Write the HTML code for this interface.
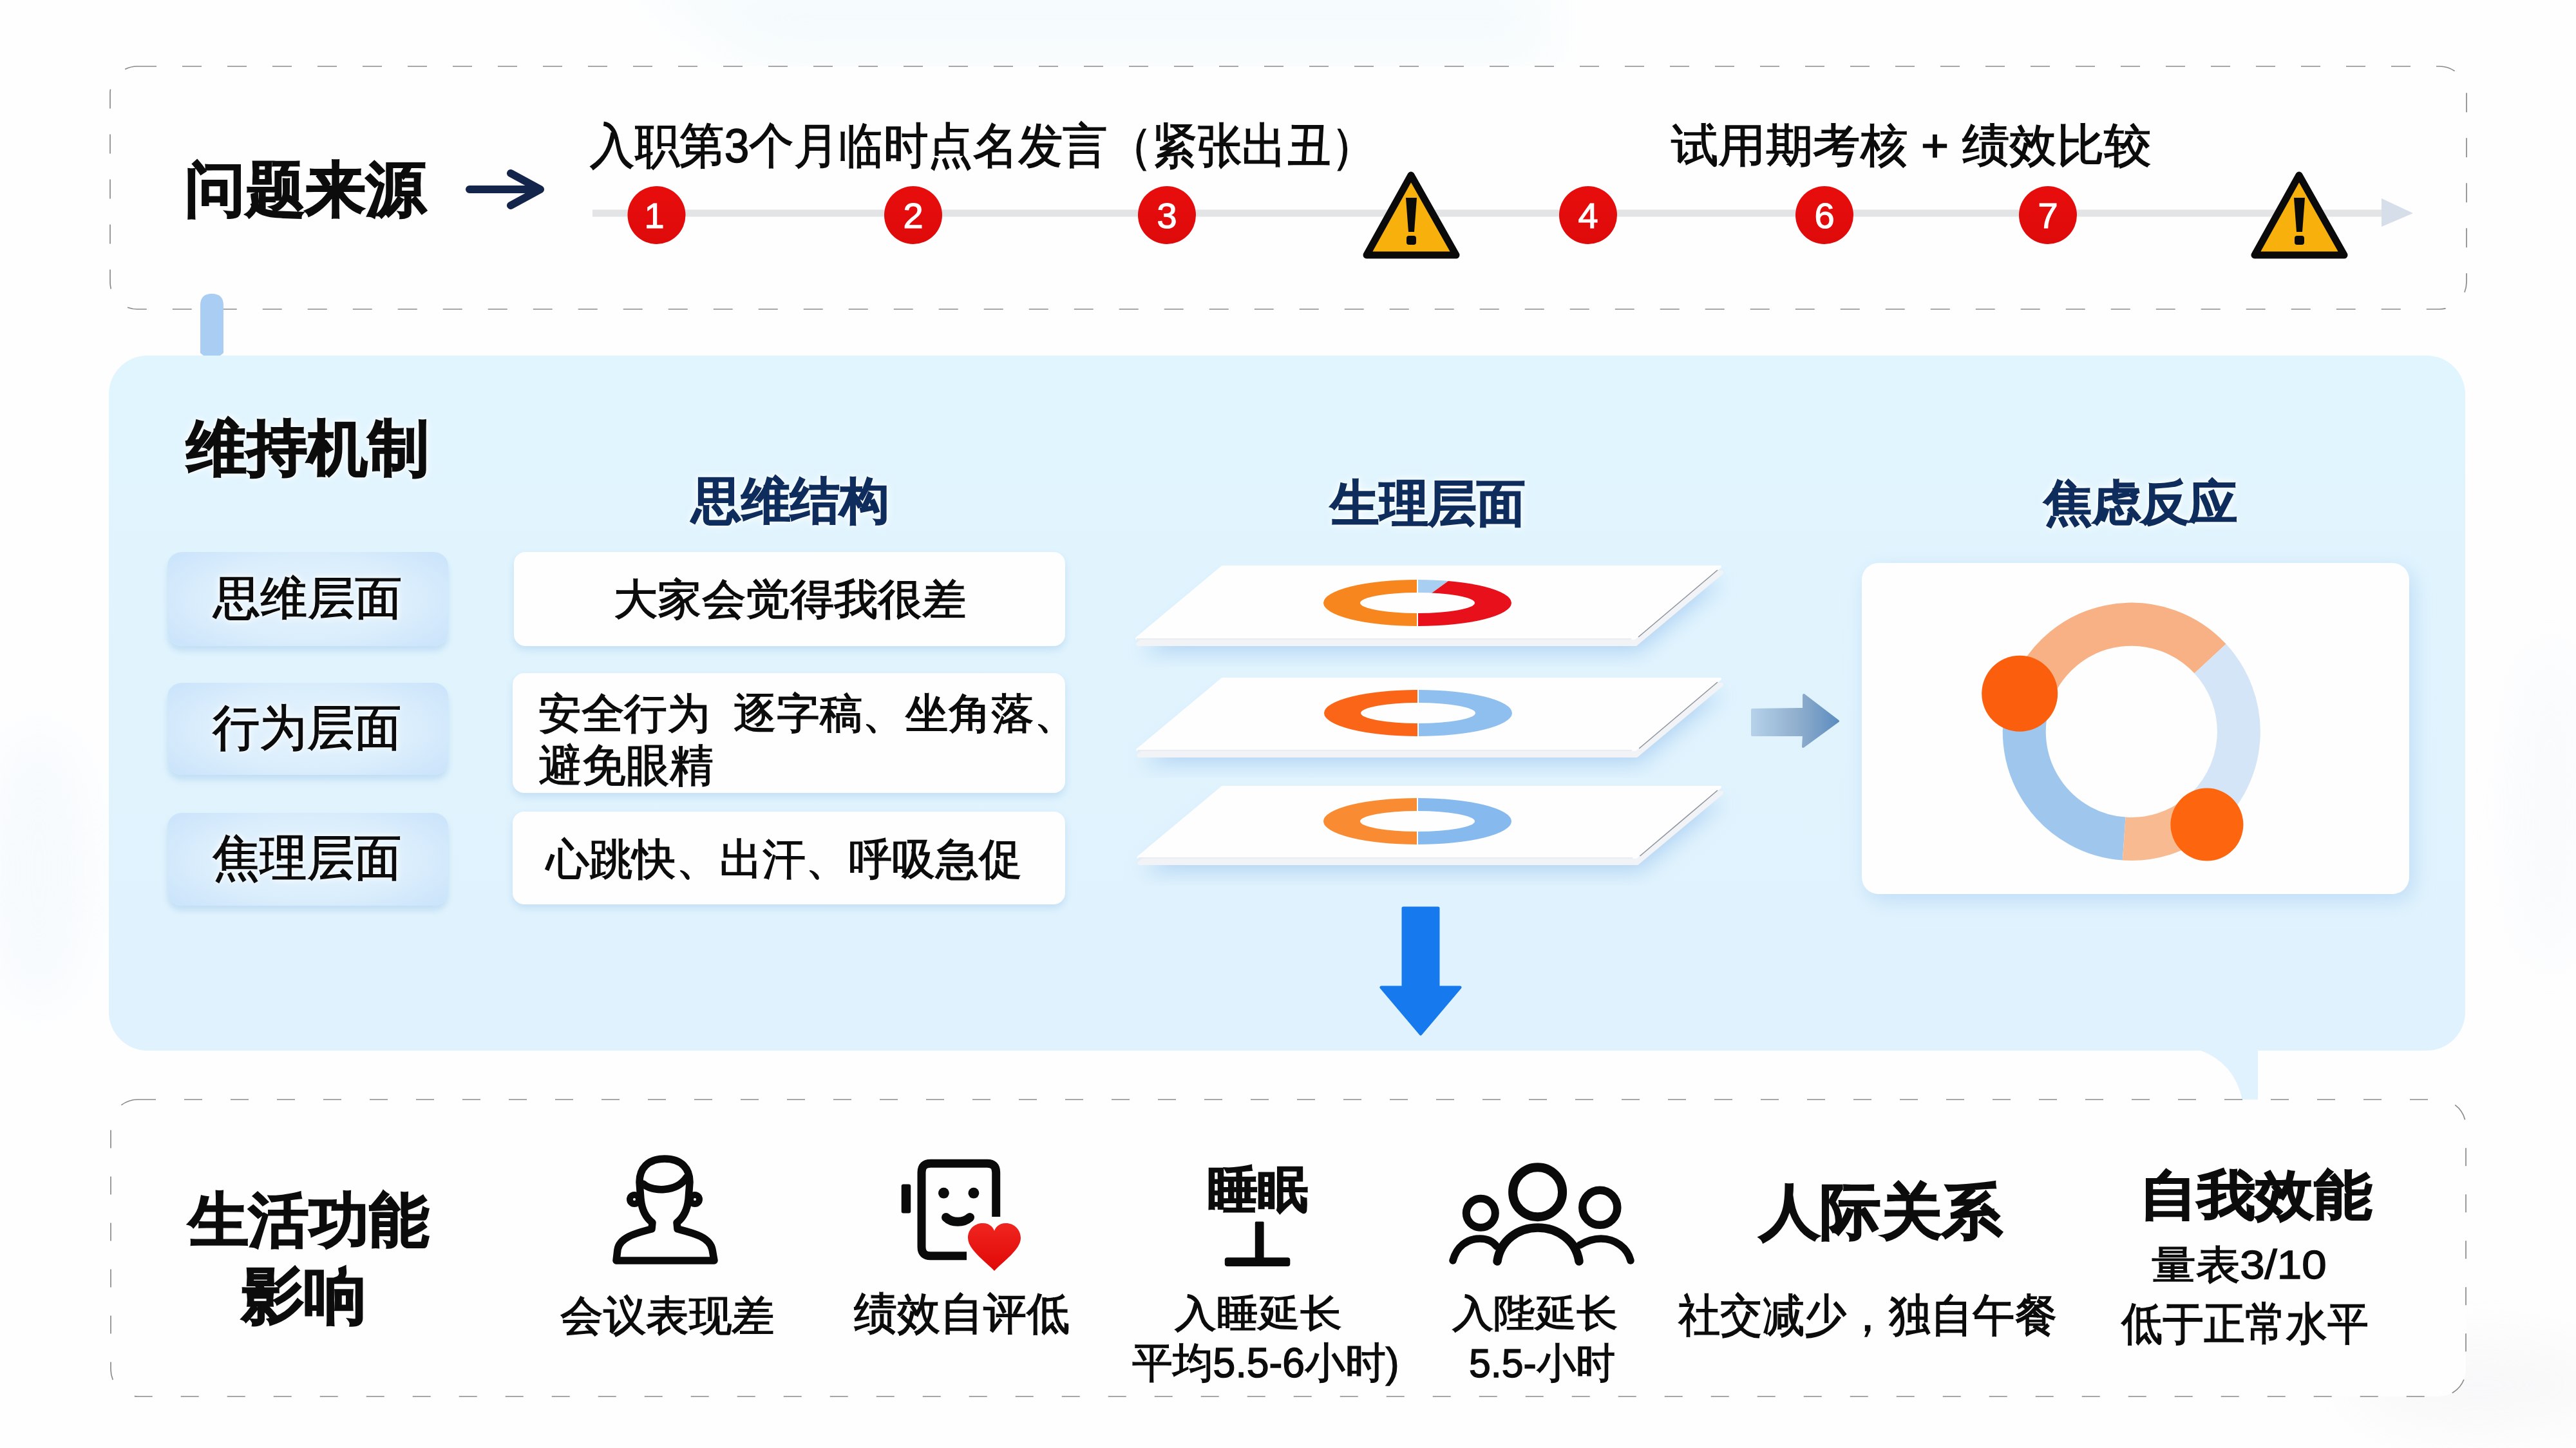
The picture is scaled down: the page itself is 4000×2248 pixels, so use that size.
<!DOCTYPE html>
<html><head><meta charset="utf-8">
<style>
html,body{margin:0;padding:0;}
body{width:4000px;height:2248px;position:relative;overflow:hidden;background:#fefefe;font-family:"Liberation Sans",sans-serif;color:#0c0c0c;}
.t{position:absolute;white-space:pre;line-height:1;transform-origin:0 0;z-index:5;font-weight:400;-webkit-text-stroke:1.5px currentColor;}
.b{font-weight:700;-webkit-text-stroke:2px currentColor;}
.b.navy{-webkit-text-stroke:1.5px currentColor;}
.glow{text-shadow:0 0 4px #fff,0 0 9px #fff,0 0 16px rgba(255,255,255,.9);}
.navy{color:#0f2d5c;}
svg.l{position:absolute;left:0;top:0;}
.pill{position:absolute;border-radius:22px;background:radial-gradient(ellipse 60% 70% at 50% 50%,#e4f3fd 0%,#dbeefc 60%,#cde5fb 100%);box-shadow:0 8px 10px rgba(160,200,235,0.45);z-index:2;}
.card{position:absolute;border-radius:18px;background:#fefefe;box-shadow:0 6px 12px rgba(160,200,235,0.45);z-index:2;}
</style></head><body>
<svg class="l" width="4000" height="2248" viewBox="0 0 4000 2248" style="z-index:1">
<defs>
  <filter id="blur10" x="-20%" y="-50%" width="140%" height="200%"><feGaussianBlur stdDeviation="10"/></filter>
  <filter id="blur16" x="-20%" y="-20%" width="140%" height="140%"><feGaussianBlur stdDeviation="16"/></filter>
  <filter id="blur40" x="-100%" y="-100%" width="300%" height="300%"><feGaussianBlur stdDeviation="40"/></filter>
  <linearGradient id="ag" x1="0" y1="0" x2="1" y2="0"><stop offset="0" stop-color="#b5d1ea"/><stop offset="0.55" stop-color="#8eadcc"/><stop offset="1" stop-color="#5d8dc0"/></linearGradient>
  <linearGradient id="midg" x1="0" y1="0" x2="0" y2="1"><stop offset="0" stop-color="#e1f5fe"/><stop offset="1" stop-color="#e0f2fd"/></linearGradient>
  <linearGradient id="redg" x1="0" y1="0" x2="0" y2="1"><stop offset="0" stop-color="#e80d0d"/><stop offset="1" stop-color="#de0a0a"/></linearGradient>
  <linearGradient id="hg" x1="0" y1="0" x2="0" y2="1"><stop offset="0" stop-color="#f0251f"/><stop offset="1" stop-color="#e00808"/></linearGradient>
</defs>
<!-- faint background blobs -->
<polygon points="980,-40 2400,-40 2400,100 1180,100" fill="#f5fbfd" filter="url(#blur40)"/>
<ellipse cx="60" cy="1350" rx="80" ry="220" fill="#eaf4fc" filter="url(#blur40)" opacity="0.4"/>
<ellipse cx="3960" cy="1250" rx="60" ry="260" fill="#eef4fa" filter="url(#blur40)" opacity="0.35"/>
<ellipse cx="3850" cy="2150" rx="200" ry="70" fill="#f0f1f3" filter="url(#blur40)" opacity="0.45"/>
<!-- top dashed box -->
<rect x="171" y="103" width="3659" height="377" rx="42" fill="#fefefe" stroke="#8a8a8a" stroke-width="1.7" stroke-dasharray="30 40"/>
<!-- connector -->
<path d="M311 474 Q311 456 329 456 Q347 456 347 474 L347 548 Q338 556 329 558 Q320 556 311 548 Z" fill="#a9cdf3"/>

<!-- middle box -->
<rect x="169" y="552" width="3659" height="1079" rx="60" fill="url(#midg)"/>
<!-- tail -->
<path d="M3400 1620 L3506 1620 L3506 1708 L3482 1708 Q3470 1650 3415 1630 Z" fill="#e0f2fd"/>

<!-- bottom dashed box -->
<rect x="172" y="1707" width="3657" height="461" rx="42" fill="#fefefe" stroke="#8a8a8a" stroke-width="1.7" stroke-dasharray="28 44"/>

<!-- timeline -->
<line x1="920" y1="331" x2="3705" y2="331" stroke="#e2e4e6" stroke-width="11"/>
<polygon points="3698,308 3747,331 3698,352" fill="#d6dee9"/>
<!-- red numbered circles -->
<g fill="url(#redg)">
<circle cx="1019.5" cy="334" r="45"/>
<circle cx="1418" cy="334" r="45"/>
<circle cx="1812" cy="334" r="45"/>
<circle cx="2466" cy="334" r="45"/>
<circle cx="2833" cy="334" r="45"/>
<circle cx="3180" cy="334" r="45"/>
</g>
<g fill="#fff" stroke="#fff" stroke-width="1.2" font-family="Liberation Sans, sans-serif" font-weight="400" font-size="56" text-anchor="middle">
<text x="1016" y="354">1</text>
<text x="1418" y="354">2</text>
<text x="1812" y="354">3</text>
<text x="2466" y="354">4</text>
<text x="2833" y="354">6</text>
<text x="3180" y="354">7</text>
</g>
<!-- warning triangles -->
<g stroke="#0a0a0a" stroke-width="11" stroke-linejoin="round" fill="#f8b10c">
<polygon points="2191,272 2122,396 2261,396"/>
<polygon points="3570,272 3501,396 3640,396"/>
</g>
<g fill="#0a0a0a">
<path d="M2183 307 L2200 307 L2196 360 L2187 360 Z"/>
<rect x="2184" y="366" width="15" height="14" rx="4"/>
<path d="M3562 307 L3579 307 L3575 360 L3566 360 Z"/>
<rect x="3563" y="366" width="15" height="14" rx="4"/>
</g>
<!-- arrow after title -->
<path d="M729 294 L836 294 M793 269 L839 294 L793 319" fill="none" stroke="#13254a" stroke-width="12" stroke-linecap="round" stroke-linejoin="round"/>

<!-- ===== middle: plates ===== -->
<g id="plates">
  <polygon points="1904.0,902.0 2677.0,902.0 2544.0,1013.0 1771.0,1013.0" fill="#a3c9f0" filter="url(#blur16)" opacity="0.75"/>
  <polygon points="1900.0,889.0 2673.0,889.0 2540.0,1000.0 1767.0,1000.0" fill="#f1f3f6" stroke="#f1f3f6" stroke-width="6" stroke-linejoin="round"/>
  <polygon points="1898.0,880.0 2671.0,880.0 2538.0,991.0 1765.0,991.0" fill="#fefefe" stroke="#fefefe" stroke-width="4" stroke-linejoin="round"/>
  <line x1="2667.0" y1="885.0" x2="2544.0" y2="989.0" stroke="#8d949c" stroke-width="1.6"/>
  <line x1="1765.0" y1="992.0" x2="2533.0" y2="992.0" stroke="#e3e6ea" stroke-width="1.5"/>
  <polygon points="1904.0,1076.0 2677.0,1076.0 2545.2,1186.0 1772.2,1186.0" fill="#a3c9f0" filter="url(#blur16)" opacity="0.75"/>
  <polygon points="1900.0,1063.0 2673.0,1063.0 2541.2,1173.0 1768.2,1173.0" fill="#f1f3f6" stroke="#f1f3f6" stroke-width="6" stroke-linejoin="round"/>
  <polygon points="1898.0,1054.0 2671.0,1054.0 2539.2,1164.0 1766.2,1164.0" fill="#fefefe" stroke="#fefefe" stroke-width="4" stroke-linejoin="round"/>
  <line x1="2667.0" y1="1059.0" x2="2545.2" y2="1162.0" stroke="#8d949c" stroke-width="1.6"/>
  <line x1="1766.2" y1="1165.0" x2="2534.2" y2="1165.0" stroke="#e3e6ea" stroke-width="1.5"/>
  <polygon points="1904.0,1244.0 2677.0,1244.0 2546.4,1353.0 1773.4,1353.0" fill="#a3c9f0" filter="url(#blur16)" opacity="0.75"/>
  <polygon points="1900.0,1231.0 2673.0,1231.0 2542.4,1340.0 1769.4,1340.0" fill="#f1f3f6" stroke="#f1f3f6" stroke-width="6" stroke-linejoin="round"/>
  <polygon points="1898.0,1222.0 2671.0,1222.0 2540.4,1331.0 1767.4,1331.0" fill="#fefefe" stroke="#fefefe" stroke-width="4" stroke-linejoin="round"/>
  <line x1="2667.0" y1="1227.0" x2="2546.4" y2="1329.0" stroke="#8d949c" stroke-width="1.6"/>
  <line x1="1767.4" y1="1332.0" x2="2535.4" y2="1332.0" stroke="#e3e6ea" stroke-width="1.5"/>
</g>
<!-- donuts -->
<defs>
  
  <clipPath id="cl"><rect x="-160" y="-50" width="159" height="100"/></clipPath>
  <clipPath id="cr"><rect x="1" y="-50" width="159" height="100"/></clipPath>
  <clipPath id="ctr"><polygon points="1,-50 70,-50 1,0"/></clipPath>
  <clipPath id="crr"><polygon points="70,-50 160,-50 160,50 1,50 1,0"/></clipPath>
</defs>
<g transform="translate(2201,936)">
  <path d="M-146 0 A146 36 0 1 0 146 0 A146 36 0 1 0 -146 0 Z M-89 0 A89 16 0 1 1 89 0 A89 16 0 1 1 -89 0 Z" fill-rule="evenodd" fill="#f7861f" clip-path="url(#cl)"/>
  <path d="M-146 0 A146 36 0 1 0 146 0 A146 36 0 1 0 -146 0 Z M-89 0 A89 16 0 1 1 89 0 A89 16 0 1 1 -89 0 Z" fill-rule="evenodd" fill="#a8cff2" clip-path="url(#ctr)"/>
  <path d="M-146 0 A146 36 0 1 0 146 0 A146 36 0 1 0 -146 0 Z M-89 0 A89 16 0 1 1 89 0 A89 16 0 1 1 -89 0 Z" fill-rule="evenodd" fill="#e8101a" clip-path="url(#crr)"/>
</g>
<g transform="translate(2202,1107)">
  <path d="M-146 0 A146 36 0 1 0 146 0 A146 36 0 1 0 -146 0 Z M-89 0 A89 16 0 1 1 89 0 A89 16 0 1 1 -89 0 Z" fill-rule="evenodd" fill="#fa6517" clip-path="url(#cl)"/>
  <path d="M-146 0 A146 36 0 1 0 146 0 A146 36 0 1 0 -146 0 Z M-89 0 A89 16 0 1 1 89 0 A89 16 0 1 1 -89 0 Z" fill-rule="evenodd" fill="#8fbfee" clip-path="url(#cr)"/>
</g>
<g transform="translate(2201,1275)">
  <path d="M-146 0 A146 36 0 1 0 146 0 A146 36 0 1 0 -146 0 Z M-89 0 A89 16 0 1 1 89 0 A89 16 0 1 1 -89 0 Z" fill-rule="evenodd" fill="#f98c33" clip-path="url(#cl)"/>
  <path d="M-146 0 A146 36 0 1 0 146 0 A146 36 0 1 0 -146 0 Z M-89 0 A89 16 0 1 1 89 0 A89 16 0 1 1 -89 0 Z" fill-rule="evenodd" fill="#86baef" clip-path="url(#cr)"/>
</g>

<!-- right arrow -->
<path d="M2721 1102 L2801 1101 L2801 1079 L2854 1119.5 L2800 1159 L2801 1141 L2721 1141 Z" fill="url(#ag)" stroke="url(#ag)" stroke-width="4" stroke-linejoin="round"/>

<!-- anxiety card -->
<rect x="2898" y="884" width="850" height="514" rx="26" fill="#a9cdf2" filter="url(#blur16)" opacity="0.6"/>
<rect x="2891" y="874" width="850" height="514" rx="26" fill="#fefefe"/>
<g fill="none" stroke-width="67">
<path d="M3298.2 1302.0 A166.6 166.6 0 0 1 3152.3 1081.6" stroke="#9fc7ee"/>
<path d="M3152.3 1081.6 A166.6 166.6 0 0 1 3432.0 1022.6" stroke="#f8b185"/>
<path d="M3432.0 1022.6 A166.6 166.6 0 0 1 3414.6 1265.3" stroke="#d4e5f7"/>
<path d="M3414.6 1265.3 A166.6 166.6 0 0 1 3298.2 1302.0" stroke="#f8bb91"/>
</g>
<circle cx="3136.2" cy="1076.8" r="59" fill="#fb5e0d"/>
<circle cx="3426.9" cy="1280.1" r="56.5" fill="#fd650f"/>

<!-- down arrow -->
<path d="M2179 1410 L2233 1410 L2233 1533 L2267 1533 L2206 1605 L2145 1533 L2179 1533 Z" fill="#167aee" stroke="#167aee" stroke-width="5" stroke-linejoin="round"/>

<!-- ===== bottom icons ===== -->
<g fill="none" stroke="#0a0a0a" stroke-linecap="round" stroke-linejoin="round">
  <!-- person -->
  <path stroke-width="11.5" d="M1032 1799 C1005 1799 993 1815 993 1835 L995 1862 C997 1880 1005 1892 1013 1898 L1012 1908 C990 1914 962 1920 959 1940 L957 1957 L1109 1957 L1106 1940 C1102 1920 1075 1914 1052 1908 L1051 1898 C1059 1892 1067 1880 1069 1862 L1071 1835 C1071 1815 1059 1799 1032 1799 Z"/>
  <path stroke-width="11.5" d="M999 1838 C1012 1850 1050 1852 1066 1828"/>
  <circle cx="985" cy="1862" r="7" stroke-width="10"/>
  <circle cx="1079" cy="1862" r="7" stroke-width="10"/>
  <!-- face card -->
  <path stroke-width="13" stroke-linecap="butt" d="M1546.7 1889 L1546.7 1820 Q1546.7 1806.2 1533 1806.2 L1445 1806.2 Q1431 1806.2 1431 1820 L1431 1936 Q1431 1949.7 1445 1949.7 L1501 1949.7"/>
  <path stroke-width="14" d="M1469 1890 C1478 1899 1496 1899 1506 1890"/>
  <!-- people -->
  <circle cx="2387.6" cy="1850.7" r="38.5" stroke-width="14"/>
  <circle cx="2299.3" cy="1883.3" r="22.5" stroke-width="12"/>
  <circle cx="2484.3" cy="1874.8" r="27" stroke-width="12.5"/>
  <path stroke-width="13.5" d="M2325 1958 C2330 1925 2358 1906 2388 1906 C2418 1906 2447 1925 2452 1958"/>
  <path stroke-width="11.5" d="M2256 1957 C2262 1935 2278 1923 2298 1923 C2310 1923 2318 1927 2324 1935"/>
  <path stroke-width="11.5" d="M2453 1933 C2463 1927 2474 1923 2486 1923 C2508 1923 2527 1937 2532 1957"/>
</g>
<g fill="#0a0a0a">
  <rect x="1399.7" y="1838.5" width="14.5" height="45" rx="3"/>
  <circle cx="1465.4" cy="1852.2" r="8.4"/>
  <circle cx="1511.9" cy="1852.2" r="8.4"/>
  <!-- sleep T -->
  <rect x="1948.8" y="1896.4" width="13.8" height="60" rx="1.5"/>
  <rect x="1901.8" y="1952.3" width="101.5" height="13.8" rx="4"/>
</g>
<path fill="url(#hg)" d="M1544 1973 C1530 1958 1503 1940 1503 1922 C1503 1905 1518 1898 1527 1899 C1536 1899 1542 1905 1544 1911 C1546 1905 1552 1899 1561 1899 C1572 1898 1585 1907 1585 1922 C1585 1940 1558 1958 1544 1973 Z"/>
</svg>

<!-- pills & cards -->
<div class="pill" style="left:260px;top:857px;width:436px;height:146px;"></div>
<div class="pill" style="left:260px;top:1060px;width:436px;height:143px;"></div>
<div class="pill" style="left:260px;top:1262px;width:436px;height:144px;"></div>
<div class="card" style="left:798px;top:857px;width:856px;height:146px;"></div>
<div class="card" style="left:796px;top:1045px;width:858px;height:186px;"></div>
<div class="card" style="left:796px;top:1260px;width:858px;height:144px;"></div>

<div id="t1" class="t b glow" style="left:286.8px;top:248.1px;font-size:93.22px;transform:scaleX(1.0068);">问题来源</div>
<div id="t2" class="t " style="left:916.4px;top:188.9px;font-size:74.81px;transform:scaleX(0.9273);">入职第3个月临时点名发言（紧张出丑）</div>
<div id="t3" class="t " style="left:2595.1px;top:190.0px;font-size:71.26px;transform:scaleX(1.0352);">试用期考核 + 绩效比较</div>
<div id="t4" class="t b glow" style="left:288.9px;top:649.2px;font-size:93.50px;transform:scaleX(1.0024);">维持机制</div>
<div id="t5" class="t b navy glow" style="left:1073.7px;top:738.5px;font-size:77.02px;transform:scaleX(0.9962);">思维结构</div>
<div id="t6" class="t b navy glow" style="left:2065.8px;top:743.1px;font-size:77.21px;transform:scaleX(0.9813);">生理层面</div>
<div id="t7" class="t b navy glow" style="left:3173.8px;top:744.4px;font-size:73.68px;transform:scaleX(1.0155);">焦虑反应</div>
<div id="t8" class="t glow" style="left:331.0px;top:892.7px;font-size:71.42px;transform:scaleX(1.0328);">思维层面</div>
<div id="t9" class="t glow" style="left:330.1px;top:1092.6px;font-size:75.52px;transform:scaleX(0.9647);">行为层面</div>
<div id="t10" class="t glow" style="left:330.2px;top:1294.4px;font-size:76.15px;transform:scaleX(0.9666);">焦理层面</div>
<div id="t11" class="t " style="left:952.5px;top:897.9px;font-size:65.94px;transform:scaleX(1.0360);">大家会觉得我很差</div>
<div id="t12" class="t " style="left:836.4px;top:1076.1px;font-size:64.57px;transform:scaleX(1.0253);">安全行为  逐字稿、坐角落、</div>
<div id="t13" class="t " style="left:836.4px;top:1155.1px;font-size:68.74px;transform:scaleX(0.9835);">避免眼精</div>
<div id="t14" class="t " style="left:847.9px;top:1301.0px;font-size:66.71px;transform:scaleX(1.0025);">心跳快、出汗、呼吸急促</div>
<div id="t15" class="t b" style="left:292.7px;top:1849.0px;font-size:92.16px;transform:scaleX(1.0138);">生活功能</div>
<div id="t16" class="t b" style="left:374.9px;top:1963.9px;font-size:96.44px;transform:scaleX(1.0136);">影响</div>
<div id="t17" class="t " style="left:870.3px;top:2011.1px;font-size:64.72px;transform:scaleX(1.0237);">会议表现差</div>
<div id="t18" class="t " style="left:1326.2px;top:2006.3px;font-size:68.74px;transform:scaleX(0.9709);">绩效自评低</div>
<div id="t19" class="t b" style="left:1875.4px;top:1808.6px;font-size:75.99px;transform:scaleX(1.0260);">睡眠</div>
<div id="t20" class="t " style="left:1824.1px;top:2010.0px;font-size:58.60px;transform:scaleX(1.1000);">入睡延长</div>
<div id="t21" class="t " style="left:1758.4px;top:2084.4px;font-size:64.70px;transform:scaleX(0.9663);">平均5.5-6小时)</div>
<div id="t22" class="t " style="left:2255.1px;top:2010.0px;font-size:58.64px;transform:scaleX(1.0904);">入陛延长</div>
<div id="t23" class="t " style="left:2280.5px;top:2084.0px;font-size:63.68px;transform:scaleX(0.9551);">5.5-小时</div>
<div id="t24" class="t b" style="left:2731.8px;top:1835.2px;font-size:92.96px;transform:scaleX(1.0141);">人际关系</div>
<div id="t25" class="t " style="left:2606.2px;top:2008.4px;font-size:69.78px;transform:scaleX(0.9332);">社交减少，独自午餐</div>
<div id="t26" class="t b" style="left:3322.3px;top:1814.9px;font-size:82.63px;transform:scaleX(1.0868);">自我效能</div>
<div id="t27" class="t " style="left:3341.0px;top:1933.1px;font-size:62.36px;transform:scaleX(1.1065);">量表3/10</div>
<div id="t28" class="t " style="left:3294.0px;top:2021.1px;font-size:69.78px;transform:scaleX(0.9142);">低于正常水平</div>
</body></html>
